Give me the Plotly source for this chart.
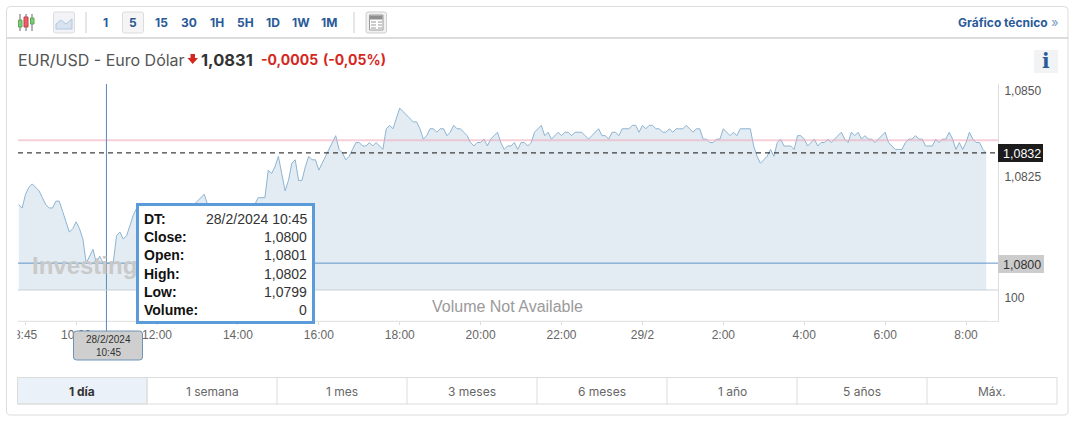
import pandas as pd
import plotly.graph_objects as go

W, H = 1077, 423

# 5 minute closes, 28/2/2024 08:35 to 29/2/2024 08:30
close_1 = [1.0817, 1.0816, 1.0820, 1.0822, 1.0823, 1.0822, 1.0821, 1.0819, 1.0817, 1.0816, 1.0816, 1.0818,
           1.0818, 1.0815, 1.0812, 1.0809, 1.0810, 1.0812, 1.0810, 1.0807, 1.0800, 1.0802, 1.0804, 1.0800,
           1.0802, 1.0800, 1.0800, 1.0800, 1.0800, 1.0808, 1.0809, 1.0807, 1.0808, 1.0811, 1.0814, 1.0816,
           1.0817, 1.0816, 1.0815, 1.0816, 1.0817, 1.0816, 1.0815, 1.0814, 1.0815, 1.0816, 1.0817, 1.0816,
           1.0815, 1.0816, 1.0817, 1.0816, 1.0817, 1.0818, 1.0819, 1.0820, 1.0817, 1.0816, 1.0815, 1.0816,
           1.0815, 1.0814, 1.0815, 1.0816, 1.0815, 1.0816, 1.0817, 1.0816, 1.0815, 1.0816, 1.0817, 1.0819]
close_2 = [1.0819, 1.0819, 1.0827, 1.0826, 1.0828, 1.0831, 1.0826, 1.0821, 1.0824, 1.0829, 1.0830, 1.0824,
           1.0824, 1.0828, 1.0831, 1.0830, 1.0830, 1.0827, 1.0829, 1.0831, 1.0833, 1.0835, 1.0837, 1.0833,
           1.0832, 1.0830, 1.0831, 1.0833, 1.0835, 1.0835, 1.0834, 1.0834, 1.0835, 1.0834, 1.0835, 1.0834,
           1.0833, 1.0839, 1.0840, 1.0839, 1.0842, 1.0845, 1.0844, 1.0843, 1.0842, 1.0841, 1.0841, 1.0839,
           1.0836, 1.0837, 1.0839, 1.0839, 1.0838, 1.0839, 1.0839, 1.0837, 1.0838, 1.0840, 1.0839, 1.0839,
           1.0838, 1.0837, 1.0835, 1.0834, 1.0835, 1.0835, 1.0836, 1.0834, 1.0836, 1.0837, 1.0838, 1.0835]
close_3 = [1.0833, 1.0834, 1.0834, 1.0835, 1.0833, 1.0835, 1.0835, 1.0834, 1.0835, 1.0838, 1.0839, 1.0840,
           1.0837, 1.0838, 1.0836, 1.0837, 1.0838, 1.0837, 1.0838, 1.0838, 1.0837, 1.0838, 1.0838, 1.0838,
           1.0837, 1.0836, 1.0837, 1.0838, 1.0839, 1.0837, 1.0837, 1.0836, 1.0838, 1.0838, 1.0837, 1.0839,
           1.0839, 1.0839, 1.0840, 1.0840, 1.0838, 1.0840, 1.0839, 1.0840, 1.0840, 1.0839, 1.0839, 1.0838,
           1.0838, 1.0839, 1.0838, 1.0839, 1.0839, 1.0839, 1.0840, 1.0839, 1.0838, 1.0839, 1.0839, 1.0836,
           1.0836, 1.0835, 1.0835, 1.0836, 1.0836, 1.0839, 1.0838, 1.0837, 1.0838, 1.0837, 1.0839, 1.0839]
close_4 = [1.0839, 1.0839, 1.0834, 1.0831, 1.0829, 1.0830, 1.0831, 1.0833, 1.0831, 1.0835, 1.0836, 1.0834,
           1.0834, 1.0834, 1.0833, 1.0837, 1.0837, 1.0836, 1.0834, 1.0835, 1.0836, 1.0834, 1.0835, 1.0835,
           1.0836, 1.0835, 1.0836, 1.0837, 1.0838, 1.0836, 1.0835, 1.0838, 1.0837, 1.0838, 1.0836, 1.0837,
           1.0836, 1.0836, 1.0835, 1.0836, 1.0837, 1.0838, 1.0835, 1.0834, 1.0833, 1.0833, 1.0833, 1.0835,
           1.0836, 1.0836, 1.0837, 1.0836, 1.0836, 1.0834, 1.0834, 1.0834, 1.0836, 1.0835, 1.0836, 1.0836,
           1.0838, 1.0836, 1.0833, 1.0835, 1.0833, 1.0835, 1.0838, 1.0836, 1.0835, 1.0835, 1.0833, 1.0832]
closes = close_1 + close_2 + close_3 + close_4
times = pd.date_range("2024-02-28 08:35", periods=len(closes), freq="5min")
volumes = [0] * len(closes)

prev_close = 1.08357
last_price = 1.0832
cross_time = "2024-02-28 10:45"
cross_price = 1.0800

tick_times = ["2024-02-28 08:45", "2024-02-28 10:00", "2024-02-28 12:00", "2024-02-28 14:00",
              "2024-02-28 16:00", "2024-02-28 18:00", "2024-02-28 20:00", "2024-02-28 22:00",
              "2024-02-29 00:00", "2024-02-29 02:00", "2024-02-29 04:00", "2024-02-29 06:00",
              "2024-02-29 08:00"]
tick_labels = ["8:45", "10:00", "12:00", "14:00", "16:00", "18:00", "20:00", "22:00",
               "29/2", "2:00", "4:00", "6:00", "8:00"]
price_ticks = [1.0825, 1.0850]
volume_ticks = [100]

intervals = ["1", "5", "15", "30", "1H", "5H", "1D", "1W", "1M"]
interval_x = [105, 133, 161, 189, 217, 245, 273, 301, 329]
periods = ["1 día", "1 semana", "1 mes", "3 meses", "6 meses", "1 año", "5 años", "Máx."]
tooltip_names = ["DT:", "Close:", "Open:", "High:", "Low:", "Volume:"]
tooltip_values = ["28/2/2024 10:45", "1,0800", "1,0801", "1,0802", "1,0799", "0"]

BLUE = "#2a5a98"
SANS = "Liberation Sans"
UI = "Inter"


def px(x):
    return x / W


def py(y):
    return 1 - y / H


shapes = []
notes = []


def rect(x0, y0, x1, y1, fill="rgba(0,0,0,0)", line="rgba(0,0,0,0)", lw=1, layer="above"):
    shapes.append(dict(type="rect", xref="paper", yref="paper", x0=px(x0), x1=px(x1), y0=py(y0), y1=py(y1),
                       fillcolor=fill, line=dict(color=line, width=lw), layer=layer))


def round_rect(x0, y0, x1, y1, r, fill, line, layer="above"):
    # rounded box, plotly has no corner radius on rect shapes
    def p(a, b):
        return f"{px(a):.5f},{py(b):.5f}"
    d = (f"M {p(x0 + r, y0)} L {p(x1 - r, y0)} Q {p(x1, y0)} {p(x1, y0 + r)} L {p(x1, y1 - r)} "
         f"Q {p(x1, y1)} {p(x1 - r, y1)} L {p(x0 + r, y1)} Q {p(x0, y1)} {p(x0, y1 - r)} "
         f"L {p(x0, y0 + r)} Q {p(x0, y0)} {p(x0 + r, y0)} Z")
    shapes.append(dict(type="path", xref="paper", yref="paper", path=d, fillcolor=fill,
                       line=dict(color=line, width=1), layer=layer))


def seg(x0, y0, x1, y1, color, lw=1):
    shapes.append(dict(type="line", xref="paper", yref="paper", x0=px(x0), x1=px(x1), y0=py(y0), y1=py(y1),
                       line=dict(color=color, width=lw), layer="above"))


def poly(points, fill, line="rgba(0,0,0,0)"):
    d = "M " + " L ".join(f"{px(a):.5f},{py(b):.5f}" for a, b in points) + " Z"
    shapes.append(dict(type="path", xref="paper", yref="paper", path=d, fillcolor=fill,
                       line=dict(color=line, width=1), layer="above"))


def text(x, y, s, size=12, color="#333", family=SANS, anchor="left", bold=False):
    if bold:
        s = f"<b>{s}</b>"
    notes.append(dict(xref="paper", yref="paper", x=px(x), y=py(y), text=s, showarrow=False, xanchor=anchor,
                      yanchor="middle", font=dict(size=size, color=color, family=family), borderpad=0))


fig = go.Figure()
fig.add_trace(go.Scatter(x=times, y=closes, mode="lines", line=dict(color="#8db4d2", width=1),
                         fill="tozeroy", fillcolor="#e4ecf3", yaxis="y", xaxis="x"))
fig.add_trace(go.Bar(x=times, y=volumes, yaxis="y2", xaxis="x", marker=dict(color="#8db4d2")))

# card and toolbar
round_rect(6.5, 6.5, 1068, 415, 4, "rgba(0,0,0,0)", "#dcdcdc", layer="below")
seg(7, 38, 1068, 38, "#b9b9b9")
seg(86, 12, 86, 33, "#cfcfcf")
seg(354, 12, 354, 33, "#cfcfcf")

# candle icon
for sx in [20, 26, 32]:
    seg(sx, 14, sx, 31, "#666")
rect(18.5, 20, 22, 27, fill="#7ccb76", line="#5aa855")
rect(24, 17, 28, 27, fill="#ec5f66", line="#c2444a")
rect(30.5, 18, 34, 24, fill="#7ccb76", line="#5aa855")

# line icon
round_rect(53.5, 12, 74.5, 33, 2, "#f1f3f6", "#dcdcdc")
poly([(56, 29), (56, 24), (61, 20), (66, 24), (72, 19), (72, 29)], "#d8e3f0", "#b3c7de")

# interval buttons
round_rect(122.5, 12, 143.5, 33, 2, "#f5f5f5", "#dcdcdc")
for name, ix in zip(intervals, interval_x):
    text(ix, 22.5, name, size=12, color=BLUE, family=UI, anchor="center", bold=True)

# news icon
round_rect(366, 12, 386.5, 33, 2, "#f1f1f1", "#cfcfcf")
rect(369.5, 15, 383, 30, fill="#ffffff", line="#999")
rect(370, 15.5, 382.5, 19.5, fill="#8f8f8f")
for ny in [22, 25, 28]:
    seg(371, ny, 376, ny, "#999")
    seg(378, ny, 382, ny, "#999")

text(1048.5, 22.5, "Gráfico técnico", size=12, color=BLUE, family=UI, anchor="right", bold=True)
text(1060, 22, "»", size=13, color="#7a9cc6", family=UI, anchor="right")

# title row
text(17, 60, "EUR/USD - Euro Dólar", size=16, color="#555", family=UI)
poly([(190.5, 54), (195, 54), (195, 58), (198, 58), (192.7, 64), (187.5, 58), (190.5, 58)], "#d6271e")
text(200, 60, "1,0831", size=16.5, color="#333", family=UI, bold=True)
text(259.5, 60, "-0,0005", size=14, color="#d6271e", family=UI, bold=True)
text(322, 60, "(-0,05%)", size=14, color="#d6271e", family=UI, bold=True)
rect(1034, 50, 1058, 73, fill="#f1f3f5")
text(1045.5, 61.5, "i", size=20, color=BLUE, family="DejaVu Serif", anchor="center", bold=True)

# chart reference lines
fig.add_hline(y=prev_close, line=dict(color="rgba(238,170,185,0.55)", width=2), layer="above")
fig.add_hline(y=last_price, line=dict(color="#111", width=1, dash="5px,4px"), layer="above")
seg(18, 290, 998, 290, "#c9d0d6")
fig.add_shape(type="line", xref="x", yref="paper", x0=cross_time, x1=cross_time, y0=py(332), y1=py(84),
              line=dict(color="#5b87b8", width=1), layer="above")
fig.add_shape(type="line", xref="paper", yref="y", x0=px(18), x1=px(998), y0=cross_price, y1=cross_price,
              line=dict(color="#5b94c6", width=1), layer="above")

# price badges
rect(998, 144, 1043, 162, fill="#1c1c1c")
text(1022, 153.5, "1,0832", size=12.5, color="#ffffff", anchor="center")
rect(998, 255, 1044, 273, fill="#cccccc")
text(1022, 264.5, "1,0800", size=12.5, color="#333", anchor="center")

# hides the start of the clipped first tick label
rect(8, 326, 17.5, 346, fill="#ffffff")

# date badge
round_rect(73.5, 331, 142.5, 360, 3, "#cfcfcf", "#6d94b8")
text(108, 339.5, "28/2/2024", size=10, color="#333", anchor="center")
text(108, 352.5, "10:45", size=10, color="#333", anchor="center")

# watermark, then tooltip box on top of it
text(31, 265, "Investing", size=24, color="#c9c9c9", bold=True)
notes.append(dict(xref="paper", yref="paper", x=px(136), y=py(203), xanchor="left", yanchor="top", text=" ",
                  showarrow=False, width=173, height=115, bgcolor="#ffffff", bordercolor="#5b9bd9",
                  borderwidth=3, borderpad=0))
for i, (name, value) in enumerate(zip(tooltip_names, tooltip_values)):
    row_y = 219 + i * 18.2
    text(143, row_y, name, size=14, color="#111", bold=True)
    text(308, row_y, value, size=14, color="#333", anchor="right")

text(507, 306, "Volume Not Available", size=16, color="#9a9a9a", anchor="center")

# period tabs
tab_edges = [17, 147, 277, 407, 537, 667, 797, 927, 1057]
rect(17.5, 377.5, 147, 404, fill="#eaf1f8", line="#dcdcdc")
rect(17.5, 377.5, 1057, 404, line="#dcdcdc")
for e in tab_edges[1:-1]:
    seg(e, 377.5, e, 404, "#dcdcdc")
for i, name in enumerate(periods):
    mid = (tab_edges[i] + tab_edges[i + 1]) / 2
    if i == 0:
        text(mid, 391, name, size=12, color="#333", family=UI, anchor="center", bold=True)
    else:
        text(mid, 391, name, size=12, color="#666", family=UI, anchor="center")

fig.update_layout(
    width=W, height=H, autosize=False, margin=dict(l=0, r=0, t=0, b=0),
    paper_bgcolor="#ffffff", plot_bgcolor="#ffffff", showlegend=False, hovermode=False,
    separators=",.", shapes=fig.layout.shapes + tuple(shapes), annotations=notes,
    xaxis=dict(domain=[px(18), px(998)], anchor="y2", type="date", automargin=False,
               range=["2024-02-28 08:33:48", "2024-02-29 08:47:24"],
               tickmode="array", tickvals=tick_times, ticktext=tick_labels, showgrid=False, zeroline=False,
               showline=True, linecolor="#e4e4e4", ticks="outside", ticklen=3, tickcolor="#dddddd",
               tickangle=0, tickfont=dict(family=SANS, size=12, color="#666")),
    yaxis=dict(domain=[py(290), py(84)], anchor="x", side="right", range=[1.07922, 1.08520], automargin=False,
               tickmode="array", tickvals=price_ticks, tickformat=".4f", showgrid=False, zeroline=False,
               showline=True, linecolor="#dddddd", ticks="outside", ticklen=3, tickcolor="#ffffff",
               tickfont=dict(family=SANS, size=12, color="#555")),
    yaxis2=dict(domain=[py(321), py(290)], anchor="x", side="right", range=[0, 135], automargin=False,
                tickmode="array", tickvals=volume_ticks, showgrid=False, zeroline=False,
                showline=True, linecolor="#dddddd", ticks="outside", ticklen=3, tickcolor="#ffffff",
                tickfont=dict(family=SANS, size=12, color="#555")),
)

fig.write_html("out.html", config=dict(displayModeBar=False),
               post_script="document.body.style.margin='0';document.body.style.overflow='hidden';")
